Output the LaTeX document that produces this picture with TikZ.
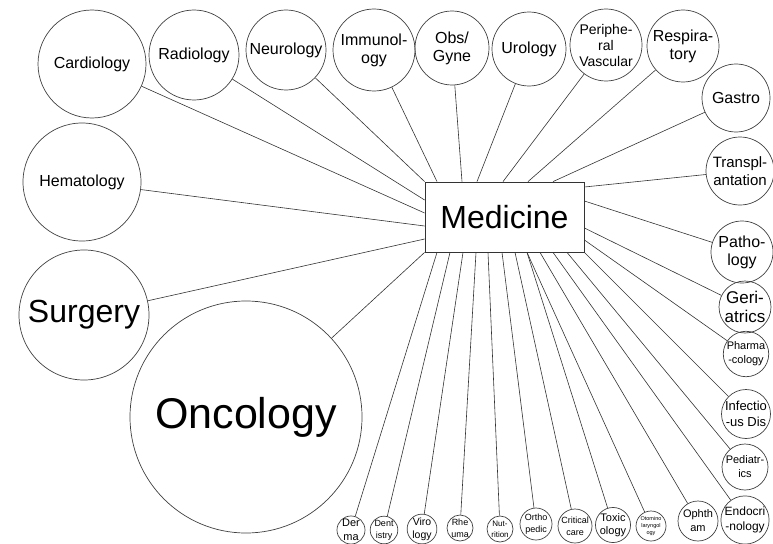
\documentclass[tikz,border=0pt]{standalone}
\usepackage{fontspec}
\setmainfont{Liberation Sans}
\usetikzlibrary{calc}

\newcommand{\fs}[2]{\fontsize{#1}{#2}\selectfont}

\begin{document}
\begin{tikzpicture}[
  x=1pt, y=-1pt,
  field/.style={circle, draw=black!75, line width=0.7pt, inner sep=0pt,
                align=center, minimum size=2*#1pt},
  hub/.style={rectangle, draw=black!80, line width=0.8pt, minimum width=159pt,
              minimum height=70pt, font=\fs{32}{36}},
  link/.style={draw=black!80, line width=0.6pt}]
  \useasboundingbox (0,0) rectangle (773,543);
  \node[hub] (med) at (504.5,217) {Medicine};
  % top row
  \node[field=54, font=\fs{16}{18}] (card) at (92,64) {Cardiology};
  \node[field=45, font=\fs{16}{18}] (radi) at (194,55) {Radiology};
  \node[field=40, font=\fs{16}{18}] (neur) at (286,50) {Neurology};
  \node[field=41, font=\fs{16}{18}] (immu) at (374,50) {Immunol-\\ogy};
  \node[field=37, font=\fs{16}{18}] (obs) at (452,48) {Obs/\\Gyne};
  \node[field=37, font=\fs{16}{18}] (uro) at (529,49) {Urology};
  \node[field=36, font=\fs{14}{16}] (peri) at (606,45) {Periphe-\\ral\\Vascular};
  \node[field=36, font=\fs{16}{18}] (resp) at (683,46) {Respira-\\tory};
  % right column
  \node[field=34, font=\fs{16}{18}] (gast) at (736,98) {Gastro};
  \node[field=34, font=\fs{15}{18}] (trans) at (740,171) {Transpl-\\antation};
  \node[field=31, font=\fs{16}{18}] (path) at (742,252) {Patho-\\logy};
  \node[field=26, font=\fs{17}{19}] (geri) at (745,307) {Geri-\\atrics};
  \node[field=22, font=\fs{11}{14}] (phar) at (746,354) {Pharma\\-cology};
  \node[field=23, font=\fs{13}{16}] (infe) at (746,414) {Infectio\\-us Dis};
  \node[field=23, font=\fs{11}{14}] (pedi) at (745,467) {Pediatr-\\ics};
  \node[field=23, font=\fs{12}{15}] (endo) at (745,520) {Endocri\\-nology};
  % bottom row
  \node[field=20, font=\fs{11}{14}] (opht) at (698,521) {Ophth\\am};
  \node[field=15, font=\fs{5.5}{7}] (otom) at (651,526) {Otomino\\laryngol\\ogy};
  \node[field=17, font=\fs{11}{13}] (toxi) at (613,525) {Toxic\\ology};
  \node[field=17, font=\fs{9}{12}] (crit) at (575,526) {Critical\\care};
  \node[field=16, font=\fs{9}{12}] (orth) at (536,524) {Ortho\\pedic};
  \node[field=13, font=\fs{8}{11}] (nutr) at (500,529) {Nut-\\rition};
  \node[field=13, font=\fs{9}{12}] (rheu) at (460,528) {Rhe\\uma};
  \node[field=14, font=\fs{10.5}{13}] (viro) at (422,529) {Viro\\logy};
  \node[field=13, font=\fs{9}{12}] (dent) at (384,530) {Dent\\istry};
  \node[field=13, font=\fs{11}{14}] (derm) at (351,530) {Der\\ma};
  % left side
  \node[field=59, font=\fs{16}{18}] (hema) at (82,182) {Hematology};
  \node[field=65, font=\fs{32}{36}] (surg) at (84,315) {Surgery};
  \node[field=116, font=\fs{43}{48}] (onco) at (246,417) {Oncology};
  % spokes
  \foreach \f/\d in {immu/-67.5, obs/-42.5, uro/-27.5, peri/-1.5, resp/23.5, gast/48.5}
    \draw[link] (\f) -- ([xshift=\d pt]med.north);
  \foreach \f/\d in {radi/17, card/4, hema/-9, surg/-22}
    \draw[link] (\f) -- ([yshift=\d pt]med.west);
  \foreach \f/\d in {trans/30, path/16, geri/-11, phar/-23}
    \draw[link] (\f) -- ([yshift=\d pt]med.east);
  \foreach \f/\d in {derm/-67.5, dent/-54.5, viro/-41.5, rheu/-28.5, nutr/-16.5,
                     orth/-2.5, crit/10.5, toxi/22.5, otom/22.5, opht/35.5,
                     endo/48.5, pedi/62.5}
    \draw[link] (\f) -- ([xshift=\d pt]med.south);
  \draw[link] (neur) -- (med.north west);
  \draw[link] (onco) -- (med.south west);
  \draw[link] (infe) -- (med.south east);
\end{tikzpicture}
\end{document}
